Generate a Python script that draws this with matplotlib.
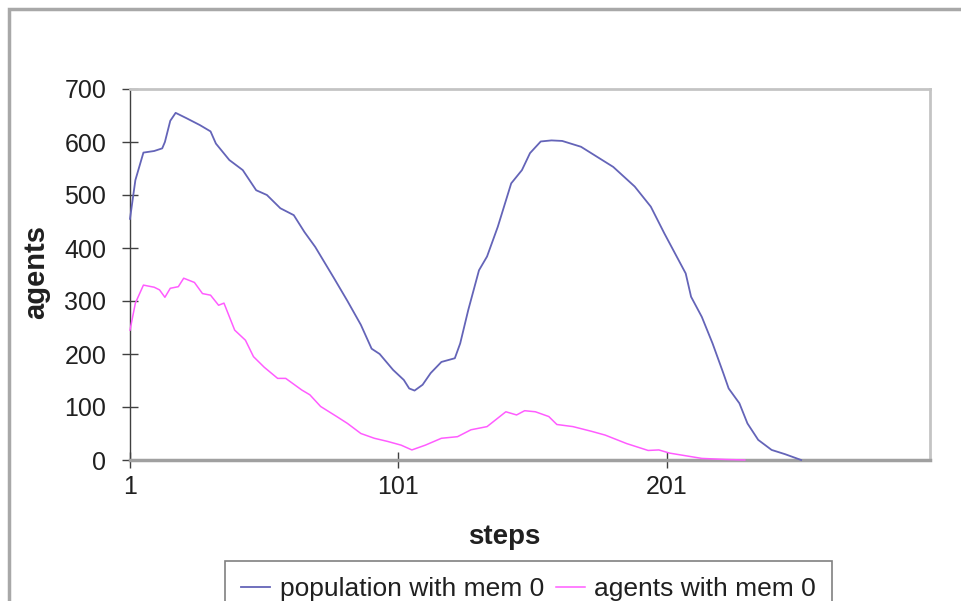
import matplotlib
matplotlib.use('Agg')
import matplotlib.pyplot as plt
from matplotlib.patches import Rectangle

plt.rcParams['font.family'] = ['Liberation Sans', 'DejaVu Sans']

# ── data ────────────────────────────────────────────────
pop_steps = [1, 3, 6, 10, 13, 14, 16, 18, 22, 27, 31, 33, 38, 43, 48, 52, 57, 62,
             66, 70, 77, 82, 87, 91, 94, 99, 103, 105, 107, 110, 113, 117, 122,
             124, 127, 131, 134, 138, 143, 147, 150, 154, 158, 162, 169, 175,
             181, 189, 195, 200, 204, 208, 210, 214, 218, 222, 224, 228, 231,
             235, 240, 245, 251]
pop_vals = [455, 528, 580, 583, 588, 600, 640, 655, 645, 632, 620, 597, 566, 547,
            509, 500, 475, 462, 430, 402, 343, 300, 255, 210, 200, 170, 151, 135,
            131, 142, 164, 185, 192, 220, 283, 358, 384, 440, 522, 547, 579, 601,
            603, 602, 591, 572, 553, 516, 478, 428, 390, 352, 308, 270, 220, 164,
            135, 107, 69, 38, 19, 11, 0]

ag_steps = [1, 3, 6, 10, 12, 14, 16, 19, 21, 25, 28, 31, 34, 36, 40, 44, 47, 51,
            56, 59, 65, 68, 72, 78, 82, 87, 92, 97, 102, 106, 111, 117, 123,
            128, 134, 141, 145, 148, 152, 157, 160, 166, 173, 178, 186, 194,
            198, 202, 208, 214, 223, 230]
ag_vals = [245, 296, 330, 326, 321, 307, 324, 327, 343, 335, 314, 311, 292, 296,
           245, 226, 195, 175, 154, 154, 132, 123, 101, 82, 69, 50, 41, 35, 28,
           19, 28, 41, 44, 57, 63, 91, 85, 93, 91, 82, 67, 63, 54, 47, 31, 18,
           19, 13, 8, 3, 1, 0]

x_ticks = [1, 101, 201]
y_ticks = [0, 100, 200, 300, 400, 500, 600, 700]

# ── figure ──────────────────────────────────────────────
W, H = 962, 601
fig = plt.figure(figsize=(W / 100, H / 100), dpi=100)
ax = fig.add_axes([130 / W, 1 - 460 / H, 800 / W, 371 / H])

# outer chart border (runs off the right/bottom edge)
fig.patches.append(Rectangle((9 / W, -0.1), 1.2, 1 - 9 / H + 0.1,
                             transform=fig.transFigure, fill=False,
                             ec='#a8a8a8', lw=2.5))

l1, = ax.plot(pop_steps, pop_vals, color='#6464b8', lw=1.3,
              label='population with mem 0', clip_on=False, zorder=3)
l2, = ax.plot(ag_steps, ag_vals, color='#ff5cff', lw=1.1,
              label='agents with mem 0', clip_on=False, zorder=3)

ax.set_xlim(1, 299)
ax.set_ylim(0, 700)
ax.set_xticks(x_ticks)
ax.set_yticks(y_ticks)
ax.tick_params(axis='both', direction='inout', length=12, width=1,
               colors='#404040', labelcolor='#202020', labelsize=18)
ax.tick_params(axis='y', pad=11)
ax.tick_params(axis='x', pad=5)

ax.spines['left'].set_color('#404040')
ax.spines['left'].set_linewidth(1.0)
ax.spines['bottom'].set_color('#a0a0a0')
ax.spines['bottom'].set_linewidth(2.5)
for s in ('top', 'right'):
    ax.spines[s].set_color('#c4c4c4')
    ax.spines[s].set_linewidth(2)

fig.text(504 / W, 1 - 537 / H, 'steps', ha='center', va='center',
         fontsize=20, fontweight='bold', color='#202020')
fig.text(36 / W, 1 - 272 / H, 'agents', ha='center', va='center',
         rotation=90, fontsize=21, fontweight='bold', color='#202020')

leg = fig.legend(handles=[l1, l2], loc='upper center', ncol=2,
                 bbox_to_anchor=(528.5 / W, 1 - 561 / H), fontsize=19,
                 frameon=True, fancybox=False, handlelength=1.1,
                 handletextpad=0.35, columnspacing=0.45, borderpad=0.6,
                 borderaxespad=0)
leg.get_frame().set_edgecolor('#606060')
leg.get_frame().set_linewidth(1.2)
for t in leg.get_texts():
    t.set_color('#202020')

fig.savefig('out.png', dpi=100)
